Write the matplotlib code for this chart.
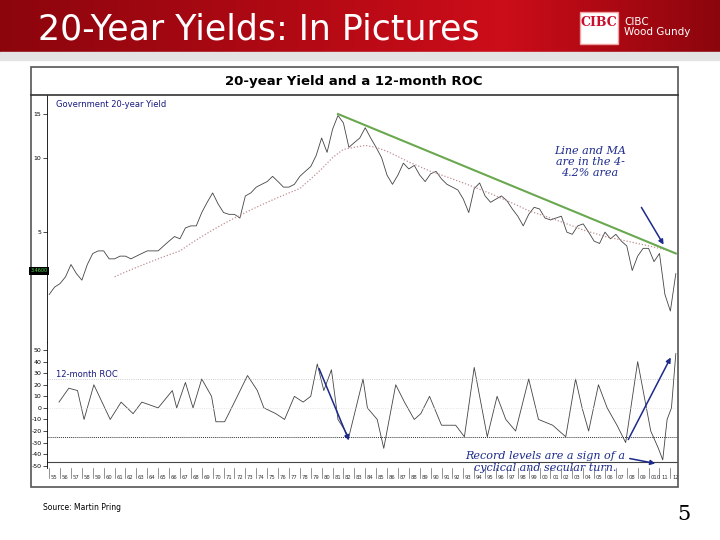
import numpy as np
import matplotlib
matplotlib.use("Agg")
import matplotlib.pyplot as plt
from matplotlib.patches import Rectangle, FancyArrowPatch

# ---- data ----
yield_years = np.arange(1955.0, 2013.0, 0.5)
yield_vals = [2.8, 3.0, 3.1, 3.3, 3.7, 3.4, 3.2, 3.7, 4.1, 4.2, 4.2, 3.9, 3.9, 4.0, 4.0, 3.9,
              4.0, 4.1, 4.2, 4.2, 4.2, 4.4, 4.6, 4.8, 4.7, 5.2, 5.3, 5.3, 6.0, 6.6, 7.2, 6.5,
              6.0, 5.9, 5.9, 5.7, 7.0, 7.2, 7.6, 7.8, 8.0, 8.4, 8.0, 7.6, 7.6, 7.8, 8.4, 8.8,
              9.2, 10.2, 12.0, 10.5, 13.0, 14.8, 13.8, 11.0, 11.5, 12.0, 13.2, 12.0, 11.0, 10.0,
              8.5, 7.8, 8.5, 9.5, 9.0, 9.3, 8.5, 8.0, 8.6, 8.8, 8.2, 7.8, 7.6, 7.4, 6.8, 6.0,
              7.5, 7.9, 7.0, 6.6, 6.8, 7.0, 6.7, 6.2, 5.8, 5.3, 5.9, 6.3, 6.2, 5.7, 5.6, 5.7,
              5.8, 5.0, 4.9, 5.3, 5.4, 5.0, 4.6, 4.5, 5.0, 4.7, 4.9, 4.6, 4.4, 3.5, 4.0, 4.3,
              4.3, 3.8, 4.1, 2.8, 2.4, 3.4]
ma_years = np.arange(1961, 2013)
ma_vals = [3.3, 3.45, 3.6, 3.75, 3.9, 4.05, 4.2, 4.5, 4.8, 5.1, 5.4, 5.7, 6.0, 6.3, 6.6, 6.9,
           7.2, 7.5, 8.2, 9.0, 10.0, 10.8, 11.0, 11.2, 11.0,
           10.6, 10.1, 9.6, 9.2, 8.8, 8.5, 8.2, 7.9, 7.6, 7.3, 7.0, 6.7, 6.4, 6.1, 5.9, 5.7,
           5.5, 5.3, 5.1, 4.95, 4.8, 4.7, 4.6, 4.5, 4.4, 4.3, 4.2]
trend_years = [1981.5, 2012.5]
trend_vals = [15.0, 4.1]
roc_years = [1955.9, 1956.8, 1957.6, 1958.2, 1959.1, 1960.6, 1961.6, 1962.7, 1963.5, 1965.0,
             1966.3, 1966.7, 1967.5, 1968.2, 1969.0, 1969.9, 1970.3, 1971.1, 1972.0, 1973.2,
             1974.1, 1974.7, 1975.8, 1976.6, 1977.5, 1978.3, 1979.0, 1979.6, 1980.2, 1980.9,
             1981.5, 1982.5, 1983.8, 1984.2, 1985.1, 1985.7, 1986.8, 1987.6, 1988.5, 1989.1,
             1989.9, 1991.0, 1992.3, 1993.1, 1994.0, 1994.8, 1995.2, 1996.1, 1996.9, 1997.8,
             1999.0, 1999.9, 2001.2, 2002.4, 2003.3, 2003.9, 2004.5, 2005.4, 2006.2, 2007.1,
             2007.9, 2009.0, 2009.6, 2010.2, 2010.9, 2011.3, 2011.7, 2012.1, 2012.5]
roc_vals = [5, 17, 15, -10, 20, -10, 5, -5, 5, 0, 15, 0, 22, 0, 25, 10, -12, -12, 5, 28,
            15, 0, -5, -10, 10, 5, 10, 38, 15, 33, -10, -25, 25, 0, -10, -35, 20, 5, -10, -5,
            10, -15, -15, -25, 35, -5, -25, 10, -10, -20, 25, -10, -15, -25, 25, 0, -20, 20, 0, -15,
            -30, 40, 10, -20, -35, -45, -10, 0, 47]
year_labels = ['55', '56', '57', '58', '59', '60', '61', '62', '63', '64', '65', '66', '67', '68',
               '69', '70', '71', '72', '73', '74', '75', '76', '77', '78', '79', '80', '81', '82',
               '83', '84', '85', '86', '87', '88', '89', '90', '91', '92', '93', '94', '95', '96',
               '97', '98', '99', '00', '01', '02', '03', '04', '05', '06', '07', '08', '09', '010',
               '11', '12']

W, H = 720, 540
fig = plt.figure(figsize=(7.2, 5.4), dpi=100)

def box(x0, y0, x1, y1):
    return [x0 / W, 1 - y1 / H, (x1 - x0) / W, (y1 - y0) / H]

# header gradient
hdr = fig.add_axes(box(0, 0, 720, 52)); hdr.set_axis_off()
grad = np.linspace(0, 1, 256)
cols = np.array([[0.55, 0.02, 0.05], [0.80, 0.05, 0.10], [0.55, 0.02, 0.05]])
img = np.zeros((1, 256, 3))
for c in range(3):
    img[0, :, c] = np.interp(grad, [0, 0.7, 1], cols[:, c])
hdr.imshow(img, aspect='auto', extent=[0, 1, 0, 1])
fig.patches.append(Rectangle((0, 1 - 60 / H), 1, 8 / H, transform=fig.transFigure, color='#e3e3e3'))
fig.text(38 / W, 1 - 30 / H, "20-Year Yields: In Pictures", color='white', fontsize=25,
         va='center', ha='left', family='DejaVu Sans')
fig.patches.append(Rectangle((580 / W, 1 - 44 / H), 38 / W, 32 / H, transform=fig.transFigure,
                             facecolor='white', edgecolor='#f0a0a0', lw=1))
fig.text(599 / W, 1 - 22 / H, "CIBC", color='#c8102e', fontsize=9, ha='center', va='center',
         family='DejaVu Serif', weight='bold')
fig.text(624 / W, 1 - 27 / H, "CIBC\nWood Gundy", color='white', fontsize=7.5, ha='left', va='center',
         linespacing=1.1)

# chart frame
fig.patches.append(Rectangle((31 / W, 1 - 487 / H), 647 / W, 420 / H, transform=fig.transFigure,
                             facecolor='none', edgecolor='#555555', lw=1.2))
fig.lines.append(plt.Line2D([31 / W, 678 / W], [1 - 95 / H] * 2, transform=fig.transFigure, color='#333333', lw=1.2))
fig.text(354 / W, 1 - 81 / H, "20-year Yield and a 12-month ROC", fontsize=9.5, weight='bold',
         ha='center', va='center')

xmin, xmax = 1954.8, 2012.7

# upper panel
ax = fig.add_axes(box(47, 95, 678, 342))
ax.patch.set_alpha(0)
ax.plot(yield_years, yield_vals, color='#444444', lw=0.6)
ax.plot(ma_years, ma_vals, color='#c09090', lw=0.9, ls=(0, (1, 1.5)))
ax.plot(trend_years, trend_vals, color='#6aa84f', lw=1.5)
ax.set_yscale('log')
ax.set_ylim(1.8, 17.9)
ax.set_xlim(xmin, xmax)
ax.set_yticks([5, 10, 15]); ax.set_yticklabels(['5', '10', '15'], fontsize=4.5)
ax.yaxis.set_minor_locator(matplotlib.ticker.NullLocator())
ax.tick_params(axis='y', length=3, width=0.5, pad=1)
ax.set_xticks([])
for s in ['top', 'right', 'bottom']:
    ax.spines[s].set_visible(False)
ax.spines['left'].set_linewidth(0.6)
ax.text(0.015, 0.98, "Government 20-year Yield", transform=ax.transAxes, fontsize=6,
        color='#1a1a80', va='top')
fig.text(39 / W, 1 - 271 / H, "3.4600", fontsize=3.5, color='#50e050', ha='center', va='center',
         bbox=dict(facecolor='black', edgecolor='none', pad=1))

# lower panel
bx = fig.add_axes(box(47, 342, 678, 468))
bx.patch.set_alpha(0)
bx.plot(roc_years, roc_vals, color='#444444', lw=0.6)
bx.axhline(25, color='#bbbbbb', lw=0.6, ls=':')
bx.axhline(0, color='#dddddd', lw=0.6, ls=':')
bx.axhline(-25, color='#333333', lw=0.7, ls=(0, (1, 1)))
bx.axhline(-47, color='#444444', lw=0.8)
bx.set_ylim(-52, 57)
bx.set_xlim(xmin, xmax)
bx.set_yticks(range(-50, 51, 10))
bx.set_yticklabels([str(v) for v in range(-50, 51, 10)], fontsize=4.5)
bx.tick_params(axis='y', length=3, width=0.5, pad=1)
bx.set_xticks([])
for s in ['top', 'right', 'bottom']:
    bx.spines[s].set_visible(False)
bx.spines['left'].set_linewidth(0.6)
bx.text(0.015, 0.72, "12-month ROC", transform=bx.transAxes, fontsize=6, color='#1a1a80')

# year strip
yx = fig.add_axes(box(47, 468, 678, 487))
yx.set_xlim(xmin, xmax); yx.set_ylim(0, 1)
yx.set_axis_off()
for i, lab in enumerate(year_labels):
    yr = 1955 + i
    yx.plot([yr, yr], [0.45, 1], color='#666666', lw=0.5)
    yx.text(yr + 0.15, 0.5, lab, fontsize=3.8, ha='left', va='center', color='#333333')

# annotations
blue = '#1c2a8c'
def fp(x, y):
    return (x, H - y)
fig.text(590 / W, 1 - 162 / H, "Line and MA\nare in the 4-\n4.2% area", fontsize=8, style='italic',
         color=blue, ha='center', va='center', family='DejaVu Serif', linespacing=1.1)
fig.text(545 / W, 1 - 462 / H, "Record levels are a sign of a\ncyclical and secular turn.", fontsize=8,
         style='italic', color=blue, ha='center', va='center', family='DejaVu Serif', linespacing=1.2)
for (a, b) in [((640, 205), (665, 247)), ((318, 366), (350, 443)), ((627, 442), (672, 355)),
               ((627, 458), (658, 464))]:
    fig.patches.append(FancyArrowPatch(fp(*a), fp(*b), transform=None, arrowstyle='-|>',
                                       mutation_scale=7, color=blue, lw=1.1, zorder=5))

fig.text(43 / W, 1 - 508 / H, "Source: Martin Pring", fontsize=5.5, va='center')
fig.text(684 / W, 1 - 515 / H, "5", fontsize=15, family='DejaVu Serif', ha='center', va='center')

fig.savefig("out.png", dpi=100)
